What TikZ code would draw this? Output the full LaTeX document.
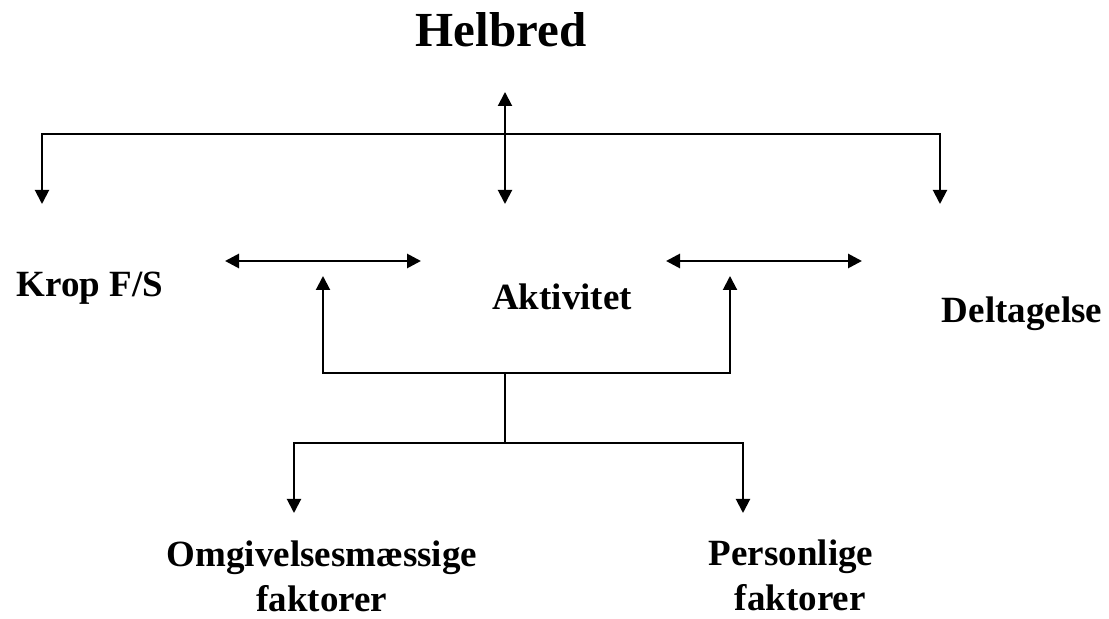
\documentclass[tikz,border=0pt]{standalone}
\usepackage{fontspec}
\setmainfont{Liberation Serif}
\usetikzlibrary{arrows.meta}
\usetikzlibrary{positioning}

\tikzset{
  lbl/.style={font=\fontsize{18.5}{22.5}\selectfont\bfseries, align=center, inner sep=0pt, anchor=base},
  ttl/.style={font=\fontsize{24.5}{28}\selectfont\bfseries, inner sep=0pt, anchor=base},
  bar/.style={line width=1.4pt, line cap=rect},
  plain/.style={line width=1pt},
  both/.style={line width=1.4pt, {Triangle[length=7pt,width=7pt]}-{Triangle[length=7pt,width=7pt]}},
  conn/.style={line width=1pt, -{Triangle[length=7pt,width=7pt]}}
}

\begin{document}
\begin{tikzpicture}[x=0.5pt,y=-0.5pt]
\useasboundingbox (0,0) rectangle (1109,619);

%H: title and the three components
\node[ttl] (helbred) at (501,47) {Helbred};
\node[lbl] (krop) at (90,297) {Krop F/S};
\node[lbl] (aktiv) at (562,310) {Aktivitet};
\node[lbl] (delt) at (1022,323) {Deltagelse};

%F: context factors (base = last line)
\node[lbl] (omgiv) at (322,612) {Omgivelsesmæssige\\faktorer};
\node[lbl] (person) at (791,611) {Personlige\\\hspace{0.5em}faktorer};

% arrow ends
\coordinate (hTop) at (505,92);
\coordinate (hBot) at (505,204);
\coordinate (hBar) at (505,134);
\coordinate (kTip) at (42,204);
\coordinate (dTip) at (940,204);

\coordinate (kaL) at (225,261);
\coordinate (kaR) at (421,261);
\coordinate (adL) at (666,261);
\coordinate (adR) at (862,261);

\coordinate (akL) at (323,276);
\coordinate (akR) at (730,276);
\coordinate (brk) at (505,373);
\coordinate (fork) at (505,443);
\coordinate (omTip) at (294,513);
\coordinate (peTip) at (743,513);

% links
\draw[both, line width=1pt] (hTop) -- (hBot);
\draw[bar] (kTip |- hBar) -- (dTip |- hBar);
\draw[conn] (kTip |- hBar) -- (kTip);
\draw[conn] (dTip |- hBar) -- (dTip);

\draw[both] (kaL) -- (kaR);
\draw[both] (adL) -- (adR);

\draw[bar, line width=1.2pt] (akL |- brk) -- (akR |- brk);
\draw[conn] (akL |- brk) -- (akL);
\draw[conn] (akR |- brk) -- (akR);
\draw[plain] (brk) -- (fork);

\draw[bar] (omTip |- fork) -- (peTip |- fork);
\draw[conn] (omTip |- fork) -- (omTip);
\draw[conn] (peTip |- fork) -- (peTip);
\end{tikzpicture}
\end{document}
